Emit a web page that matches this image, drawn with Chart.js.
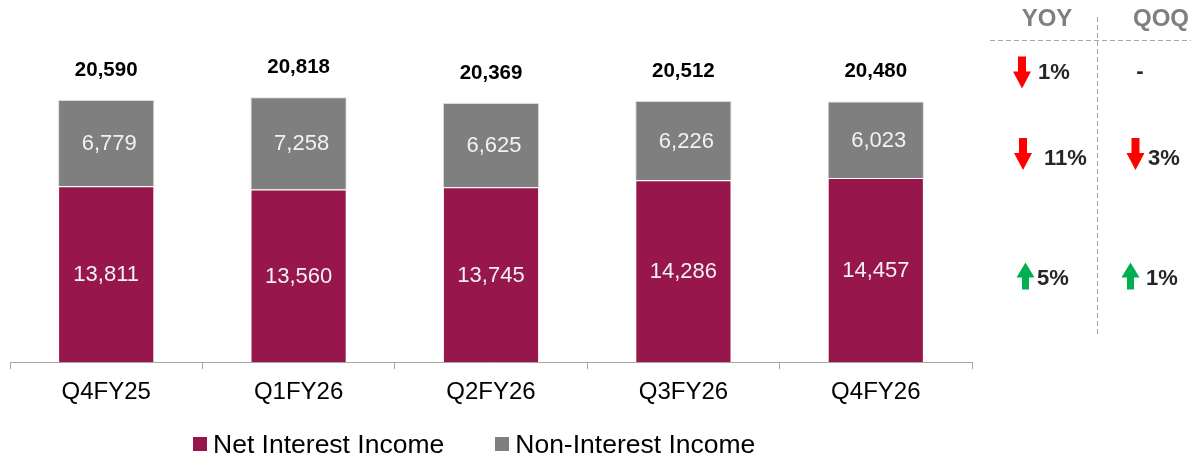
<!DOCTYPE html>
<html lang="en">
<head>
  <meta charset="UTF-8">
  <title>Total Income</title>
  <script src="https://cdn.jsdelivr.net/npm/chart.js"></script>
  <style>
    * { margin: 0; padding: 0; box-sizing: border-box; }
    body {
      width: 1191px;
      height: 460px;
      background: #ffffff;
      font-family: "Liberation Sans", Arial, sans-serif;
      position: relative;
      overflow: hidden;
    }
    .chart-box {
      position: absolute;
      left: 0;
      top: 0;
      width: 1191px;
      height: 460px;
    }
    .legend {
      position: absolute;
      left: 193px;
      top: 429px;
      display: flex;
      align-items: center;
      gap: 51px;
      font-size: 26.5px;
      line-height: 30px;
      color: #000;
      white-space: nowrap;
    }
    .legend div {
      display: flex;
      align-items: center;
    }
    .legend span.box {
      display: inline-block;
      width: 14px;
      height: 14px;
      margin-right: 6px;
    }
  </style>
</head>
<body>
  <div class="chart-box"><canvas id="incomeChart"></canvas></div>
  <div class="legend" id="legend"></div>

  <script>
    const quarters = ['Q4FY25', 'Q1FY26', 'Q2FY26', 'Q3FY26', 'Q4FY26'];
    const netInterestIncome = [13811, 13560, 13745, 14286, 14457];
    const nonInterestIncome = [6779, 7258, 6625, 6226, 6023];
    const totalIncome = [20590, 20818, 20369, 20512, 20480];

    // right-hand growth panel: rows = total, non-interest, net interest
    const yoyChange = ['1%', '11%', '5%'];
    const yoyDirection = ['down', 'down', 'up'];
    const qoqChange = ['-', '3%', '1%'];
    const qoqDirection = [null, 'down', 'up'];

    const maroon = '#97174c';
    const grey = '#7f7f7f';
    const fontFamily = '"Liberation Sans", Arial, sans-serif';

    // value labels inside the segments and totals on top
    const labelsPlugin = {
      id: 'labels',
      afterDatasetsDraw(chart) {
        const ctx = chart.ctx;
        ctx.save();
        ctx.textAlign = 'center';
        ctx.textBaseline = 'middle';
        ctx.font = '22px ' + fontFamily;
        ctx.fillStyle = '#f2f2f2';
        const shift = [0, 3];
        chart.data.datasets.forEach((ds, i) => {
          chart.getDatasetMeta(i).data.forEach((bar, j) => {
            const mid = (bar.y + bar.base) / 2;
            ctx.fillText(ds.data[j].toLocaleString('en-US'), bar.x + shift[i], mid + 1);
          });
        });
        ctx.font = 'bold 20.5px ' + fontFamily;
        ctx.fillStyle = '#000000';
        const topMeta = chart.getDatasetMeta(1);
        topMeta.data.forEach((bar, j) => {
          ctx.fillText(totalIncome[j].toLocaleString('en-US'), bar.x, bar.y - 30);
        });
        ctx.restore();
      }
    };

    function drawArrow(ctx, cx, cy, dir) {
      const down = dir === 'down';
      const h = down ? 32 : 27, w = 18, shaft = down ? 8 : 7, head = down ? 17 : 15;
      const s = down ? 1 : -1;
      const top = cy - s * h / 2;
      ctx.beginPath();
      ctx.moveTo(cx - shaft / 2, top);
      ctx.lineTo(cx + shaft / 2, top);
      ctx.lineTo(cx + shaft / 2, top + s * (h - head));
      ctx.lineTo(cx + w / 2, top + s * (h - head));
      ctx.lineTo(cx, top + s * h);
      ctx.lineTo(cx - w / 2, top + s * (h - head));
      ctx.lineTo(cx - shaft / 2, top + s * (h - head));
      ctx.closePath();
      ctx.fillStyle = down ? '#ff0000' : '#00b050';
      ctx.fill();
    }

    const panelPlugin = {
      id: 'panel',
      afterDraw(chart) {
        const ctx = chart.ctx;
        ctx.save();
        ctx.strokeStyle = '#a6a6a6';
        ctx.lineWidth = 1;
        ctx.setLineDash([5, 3]);
        ctx.beginPath();
        ctx.moveTo(990, 40.5);
        ctx.lineTo(1191, 40.5);
        ctx.moveTo(1097.5, 17);
        ctx.lineTo(1097.5, 336);
        ctx.stroke();
        ctx.setLineDash([]);

        ctx.font = 'bold 24px ' + fontFamily;
        ctx.fillStyle = '#7f7f7f';
        ctx.textAlign = 'center';
        ctx.textBaseline = 'middle';
        ctx.fillText('YOY', 1047, 19);
        ctx.fillText('QOQ', 1161, 19);

        const arrowY = [72.5, 154, 276];
        const textY = [73, 159, 279];
        const yoyArrowX = [1022, 1023, 1025.5];
        const yoyTextX = [1038, 1044, 1037];
        const qoqArrowX = [null, 1135.5, 1130.5];
        const qoqTextX = [1140, 1148, 1146];

        ctx.font = 'bold 22px ' + fontFamily;
        arrowY.forEach((y, i) => {
          drawArrow(ctx, yoyArrowX[i], y, yoyDirection[i]);
          ctx.fillStyle = '#262626';
          ctx.textAlign = 'left';
          ctx.fillText(yoyChange[i], yoyTextX[i], textY[i]);
          if (qoqDirection[i]) {
            drawArrow(ctx, qoqArrowX[i], y, qoqDirection[i]);
            ctx.fillStyle = '#262626';
            ctx.textAlign = 'left';
            ctx.fillText(qoqChange[i], qoqTextX[i], textY[i]);
          } else {
            ctx.textAlign = 'center';
            ctx.fillText(qoqChange[i], qoqTextX[i], textY[i] - 1);
          }
        });
        ctx.restore();
      }
    };

    const incomeConfig = {
      type: 'bar',
      data: {
        labels: quarters,
        datasets: [
          {
            label: 'Net Interest Income',
            data: netInterestIncome,
            backgroundColor: maroon,
            borderColor: 'rgba(255,255,255,0.5)',
            borderWidth: { top: 1, left: 1, right: 1, bottom: 0 },
            borderSkipped: false,
            categoryPercentage: 1,
            barPercentage: 0.5
          },
          {
            label: 'Non-Interest Income',
            data: nonInterestIncome,
            backgroundColor: grey,
            borderColor: 'rgba(210,210,210,0.8)',
            borderWidth: { top: 1, left: 1, right: 1, bottom: 0 },
            borderSkipped: false,
            categoryPercentage: 1,
            barPercentage: 0.5
          }
        ]
      },
      options: {
        responsive: true,
        maintainAspectRatio: false,
        animation: false,
        layout: {
          padding: { top: 44, left: 10, right: 219, bottom: 0 }
        },
        plugins: {
          legend: { display: false },
          tooltip: { enabled: false }
        },
        scales: {
          x: {
            stacked: true,
            afterFit: scale => { scale.height = 98; },
            border: { display: true, color: '#a6a6a6', width: 1 },
            grid: {
              offset: true,
              drawOnChartArea: false,
              drawTicks: true,
              tickLength: 7,
              color: '#a6a6a6'
            },
            ticks: {
              color: '#000000',
              padding: 9,
              font: { size: 24, family: fontFamily }
            }
          },
          y: {
            stacked: true,
            display: false,
            min: 0,
            max: 25000
          }
        }
      },
      plugins: [labelsPlugin, panelPlugin]
    };

    const ctxIncome = document.getElementById('incomeChart').getContext('2d');
    const incomeChart = new Chart(ctxIncome, incomeConfig);

    document.getElementById('legend').innerHTML = incomeConfig.data.datasets.map(ds =>
      '<div><span class="box" style="background:' + ds.backgroundColor + '"></span>' + ds.label + '</div>'
    ).join('');
  </script>
</body>
</html>
